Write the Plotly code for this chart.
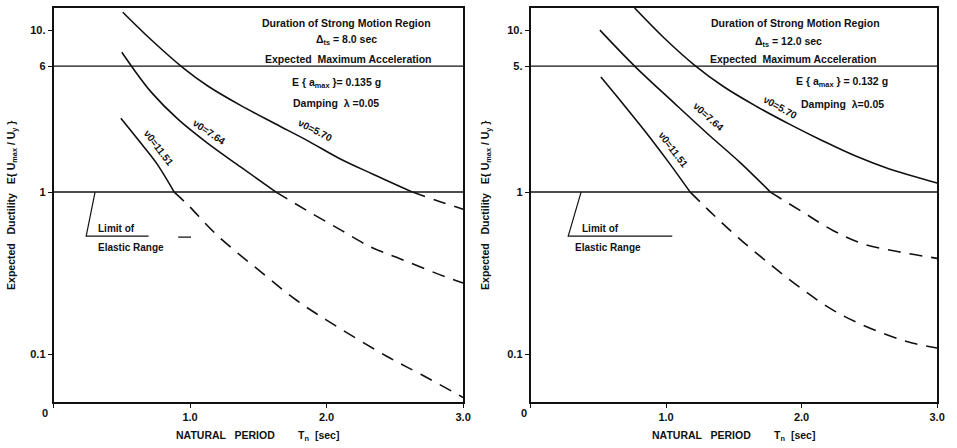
import numpy as np
import plotly.graph_objects as go

# ---- Tick labels -------------------------------------------------------
x_tick_vals = [0, 1, 2, 3]
x_tick_text = ["", "1.0", "2.0", "3.0"]
y_tick_vals = [0.1, 1, 6, 10]
y_tick_text_left = ["0.1", "1", "6", "10."]
y_tick_text_right = ["0.1", "1", "5.", "10."]

# ---- Left panel: duration 8.0 sec ------------------------------------
# nu0 = 5.70
L570_T_solid = [0.507, 0.717, 0.949, 1.13, 1.37, 1.62, 1.86, 2.09, 2.34, 2.63]
L570_D_solid = [12.9, 8.69, 5.85, 4.52, 3.43, 2.65, 2.08, 1.62, 1.29, 1.0]
L570_T_dash = [2.63, 2.80, 3.0]
L570_D_dash = [1.0, 0.89, 0.785]
# nu0 = 7.64
L764_T_solid = [0.50, 0.587, 0.717, 0.913, 1.13, 1.37, 1.63]
L764_D_solid = [7.3, 5.74, 4.13, 2.81, 2.0, 1.43, 1.0]
L764_T_dash = [1.63, 1.855, 2.109, 2.326, 2.507, 2.87, 3.0]
L764_D_dash = [1.0, 0.77, 0.58, 0.457, 0.397, 0.30, 0.275]
# nu0 = 11.51
L1151_T_solid = [0.493, 0.623, 0.754, 0.884]
L1151_D_solid = [2.86, 2.09, 1.51, 1.0]
L1151_T_dash = [0.884, 0.986, 1.20, 1.53, 1.78, 2.0, 2.44, 2.69, 3.0]
L1151_D_dash = [1.0, 0.83, 0.54, 0.316, 0.215, 0.162, 0.097, 0.075, 0.054]

# ---- Right panel: duration 12.0 sec ----------------------------------
R570_T_solid = [0.768, 0.988, 1.207, 1.426, 1.668, 1.917, 2.158, 2.399, 2.648, 2.890, 3.0]
R570_D_solid = [13.7, 8.91, 6.11, 4.47, 3.38, 2.61, 2.07, 1.67, 1.39, 1.21, 1.14]
R764_T_solid = [0.512, 0.768, 1.061, 1.302, 1.551, 1.770]
R764_D_solid = [10.0, 6.0, 3.54, 2.31, 1.51, 1.0]
R764_T_dash = [1.770, 2.012, 2.231, 2.451, 2.707, 3.0]
R764_D_dash = [1.0, 0.75, 0.58, 0.48, 0.43, 0.39]
R1151_T_solid = [0.519, 0.695, 0.878, 1.024, 1.178]
R1151_D_solid = [5.13, 3.40, 2.19, 1.51, 1.0]
R1151_T_dash = [1.178, 1.353, 1.536, 1.756, 1.982, 2.217, 2.421, 2.634, 2.816, 3.0]
R1151_D_dash = [1.0, 0.72, 0.52, 0.365, 0.26, 0.19, 0.155, 0.131, 0.117, 0.109]

# Reference levels: limit of elastic range and upper level
elastic_limit = 1.0
upper_level = 6.0

FONT = "Liberation Sans"
INK = "#111111"

fig = go.Figure()


def add_line(xs, ys, xa, ya, dash=None, width=1.6):
    fig.add_trace(go.Scatter(
        x=xs, y=ys, mode="lines", xaxis=xa, yaxis=ya,
        line=dict(color=INK, width=width, dash=dash, shape="spline", smoothing=1.0),
        hoverinfo="skip", showlegend=False))


DASH = "13px,9px"

for xa, ya, curves in [
    ("x", "y", [(L570_T_solid, L570_D_solid, L570_T_dash, L570_D_dash),
                (L764_T_solid, L764_D_solid, L764_T_dash, L764_D_dash),
                (L1151_T_solid, L1151_D_solid, L1151_T_dash, L1151_D_dash)]),
    ("x2", "y2", [(R570_T_solid, R570_D_solid, None, None),
                  (R764_T_solid, R764_D_solid, R764_T_dash, R764_D_dash),
                  (R1151_T_solid, R1151_D_solid, R1151_T_dash, R1151_D_dash)]),
]:
    # horizontal reference levels
    add_line([0, 3], [upper_level, upper_level], xa, ya, width=1.1)
    add_line([0, 3], [elastic_limit, elastic_limit], xa, ya, width=1.5)
    for ts, ds, td, dd in curves:
        add_line(ts, ds, xa, ya)
        if td is not None:
            add_line(td, dd, xa, ya, dash=DASH)

# "Limit of Elastic Range" leader lines
leader_left_T = [0.304, 0.239, 0.696]
leader_left_D = [1.0, 0.535, 0.535]
leader_right_T = [0.373, 0.278, 1.046]
leader_right_D = [1.0, 0.535, 0.535]
for xs, ys, xa, ya in [(leader_left_T, leader_left_D, "x", "y"),
                       (leader_right_T, leader_right_D, "x2", "y2")]:
    fig.add_trace(go.Scatter(x=xs, y=ys, mode="lines", xaxis=xa, yaxis=ya,
                             line=dict(color=INK, width=1.2),
                             hoverinfo="skip", showlegend=False))
fig.add_trace(go.Scatter(x=[0.913, 1.007], y=[0.527, 0.527], mode="lines",
                         xaxis="x", yaxis="y", line=dict(color=INK, width=1.2),
                         hoverinfo="skip", showlegend=False))

YR = [np.log10(0.0506), np.log10(13.7)]
axis_common = dict(showline=True, linecolor=INK, linewidth=1.6, mirror=True,
                   showgrid=False, zeroline=False, ticks="outside", ticklen=4,
                   tickcolor=INK, tickwidth=1.2,
                   tickfont=dict(family=FONT, size=11, color=INK, weight="bold"))

fig.update_layout(
    width=957, height=448, margin=dict(l=0, r=0, t=0, b=0),
    paper_bgcolor="white", plot_bgcolor="white", showlegend=False,
    xaxis=dict(domain=[54 / 957, 467 / 957], range=[0, 3], tickvals=x_tick_vals,
               ticktext=x_tick_text, anchor="y", **axis_common),
    yaxis=dict(domain=[46 / 448, 440 / 448], type="log", range=YR, tickvals=y_tick_vals,
               ticktext=y_tick_text_left, anchor="x", **axis_common),
    xaxis2=dict(domain=[535 / 957, 945 / 957], range=[0, 3], tickvals=x_tick_vals,
                ticktext=x_tick_text, anchor="y2", **axis_common),
    yaxis2=dict(domain=[46 / 448, 440 / 448], type="log", range=YR, tickvals=y_tick_vals,
                ticktext=y_tick_text_right, anchor="x2", **axis_common),
)

annotations = []


def text(x, y, s, xa="x", ya="y", size=10.5, angle=0, xanchor="center"):
    annotations.append(dict(x=x, y=np.log10(y), xref=xa, yref=ya, text=s, showarrow=False,
                            textangle=angle, xanchor=xanchor, yanchor="middle",
                            font=dict(family=FONT, size=size, color=INK, weight="bold")))


# Left panel text block
text(2.145, 11.0, "Duration of Strong Motion Region")
text(2.145, 8.67, "Δ<sub>ts</sub> = 8.0 sec")
text(2.16, 6.62, "Expected  Maximum Acceleration")
text(2.07, 4.71, "E { a<sub>max</sub> }= 0.135 g")
text(2.07, 3.54, "Damping  λ =0.05")
# Right panel text block
text(1.953, 11.0, "Duration of Strong Motion Region", "x2", "y2")
text(1.90, 8.5, "Δ<sub>ts</sub> = 12.0 sec", "x2", "y2")
text(1.94, 6.62, "Expected  Maximum Acceleration", "x2", "y2")
text(2.30, 4.77, "E { a<sub>max</sub> } = 0.132 g", "x2", "y2")
text(2.30, 3.50, "Damping  λ=0.05", "x2", "y2")

# Curve labels, set just above each curve
text(1.92, 2.41, "ν0=5.70", angle=27, size=10)
text(1.145, 2.35, "ν0=7.64", angle=34, size=10)
text(0.775, 1.87, "ν0=11.51", angle=53, size=10)
text(1.843, 3.35, "ν0=5.70", "x2", "y2", angle=29, size=10)
text(1.31, 2.92, "ν0=7.64", "x2", "y2", angle=42, size=10)
text(1.05, 1.82, "ν0=11.51", "x2", "y2", angle=53, size=10)

# Elastic range notes
text(0.31, 0.60, "Limit of", xanchor="left", size=10)
text(0.31, 0.458, "Elastic Range", xanchor="left", size=10)
text(0.366, 0.60, "Limit of", "x2", "y2", xanchor="left", size=10)
text(0.315, 0.458, "Elastic Range", "x2", "y2", xanchor="left", size=10)

# Origin labels and axis titles
for ox in [45 / 957, 528 / 957]:
    annotations.append(dict(x=ox, y=35 / 448, xref="paper", yref="paper", showarrow=False,
                            text="0", xanchor="center", yanchor="middle",
                            font=dict(family=FONT, size=11, color=INK, weight="bold")))
for cx, cy_x in [(260 / 957, 12 / 957), (740 / 957, 490 / 957)]:
    annotations.append(dict(x=cx, y=12 / 448, xref="paper", yref="paper", showarrow=False,
                            text="NATURAL   PERIOD        T<sub>n</sub>  [sec]",
                            xanchor="center", yanchor="middle",
                            font=dict(family=FONT, size=10.5, color=INK, weight="bold")))
    annotations.append(dict(x=cy_x, y=243 / 448, xref="paper", yref="paper", showarrow=False,
                            text="Expected   Ductility   E{ U<sub>max</sub> / U<sub>y</sub> }",
                            textangle=-90, xanchor="center", yanchor="middle",
                            font=dict(family=FONT, size=10.5, color=INK, weight="bold")))

fig.update_layout(annotations=annotations)
fig.write_html("out.html")
